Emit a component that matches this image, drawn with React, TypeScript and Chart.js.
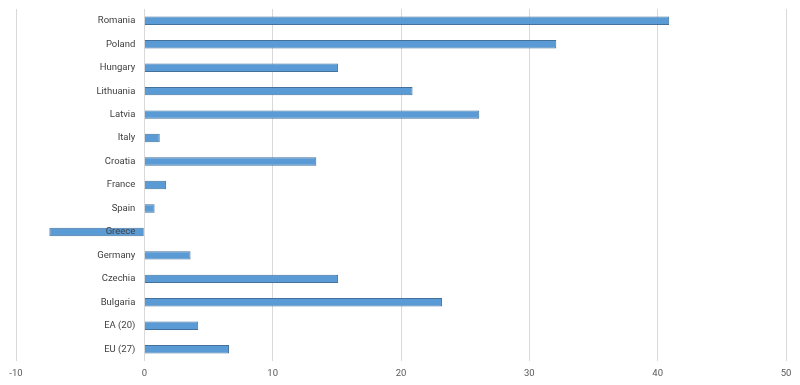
import React, { useEffect, useRef } from "react";
import { Chart, registerables } from "chart.js";

Chart.register(...registerables);

const categories = [
  "Romania", "Poland", "Hungary", "Lithuania", "Latvia", "Italy", "Croatia",
  "France", "Spain", "Greece", "Germany", "Czechia", "Bulgaria", "EA (20)", "EU (27)",
];
const values = [40.9, 32.1, 15.1, 20.9, 26.1, 1.2, 13.4, 1.7, 0.8, -7.4, 3.6, 15.1, 23.2, 4.2, 6.6];
const xMin = -10;
const xMax = 50;
const xStep = 10;

const FONT_FAMILY = "Roboto";

const categoryLabelPlugin = {
  id: "categoryLabels",
  afterDatasetsDraw(chart: any) {
    const { ctx, scales } = chart;
    const xs = scales.x;
    const ys = scales.y;
    const x0 = xs.getPixelForValue(0) - 9;
    ctx.save();
    ctx.font = `9.5px ${FONT_FAMILY}`;
    ctx.fillStyle = "#404040";
    ctx.textAlign = "right";
    ctx.textBaseline = "middle";
    chart.data.labels.forEach((lab: string, i: number) => {
      ctx.fillText(lab, x0, ys.getPixelForValue(i));
    });
    ctx.restore();
  },
};

export default function App() {
  const ref = useRef<HTMLCanvasElement | null>(null);
  useEffect(() => {
    document.body.style.margin = "0";
    const ctx = ref.current!;
    const chart = new Chart(ctx, {
      type: "bar",
      data: {
        labels: categories,
        datasets: [
          {
            data: values,
            backgroundColor: "#5B9BD5",
            borderColor: "#41719C",
            borderWidth: 1,
            categoryPercentage: 1,
            barPercentage: 0.36,
          },
        ],
      },
      options: {
        indexAxis: "y",
        animation: false,
        responsive: false,
        maintainAspectRatio: false,
        layout: { padding: { left: 16, right: 14, top: 9, bottom: 5 } },
        plugins: { legend: { display: false }, tooltip: { enabled: false } },
        scales: {
          x: {
            min: xMin,
            max: xMax,
            ticks: { stepSize: xStep, color: "#595959", font: { family: FONT_FAMILY, size: 9.5 }, padding: 7 },
            grid: { color: "#d9d9d9", lineWidth: 1, drawTicks: false },
            border: { display: false },
            afterFit(scale: any) {
              scale.height = 19;
            },
          },
          y: {
            display: false,
          },
        },
      },
      plugins: [categoryLabelPlugin],
    });
    return () => chart.destroy();
  }, []);
  return <canvas ref={ref} width={800} height={385} style={{ display: "block" }} />;
}
